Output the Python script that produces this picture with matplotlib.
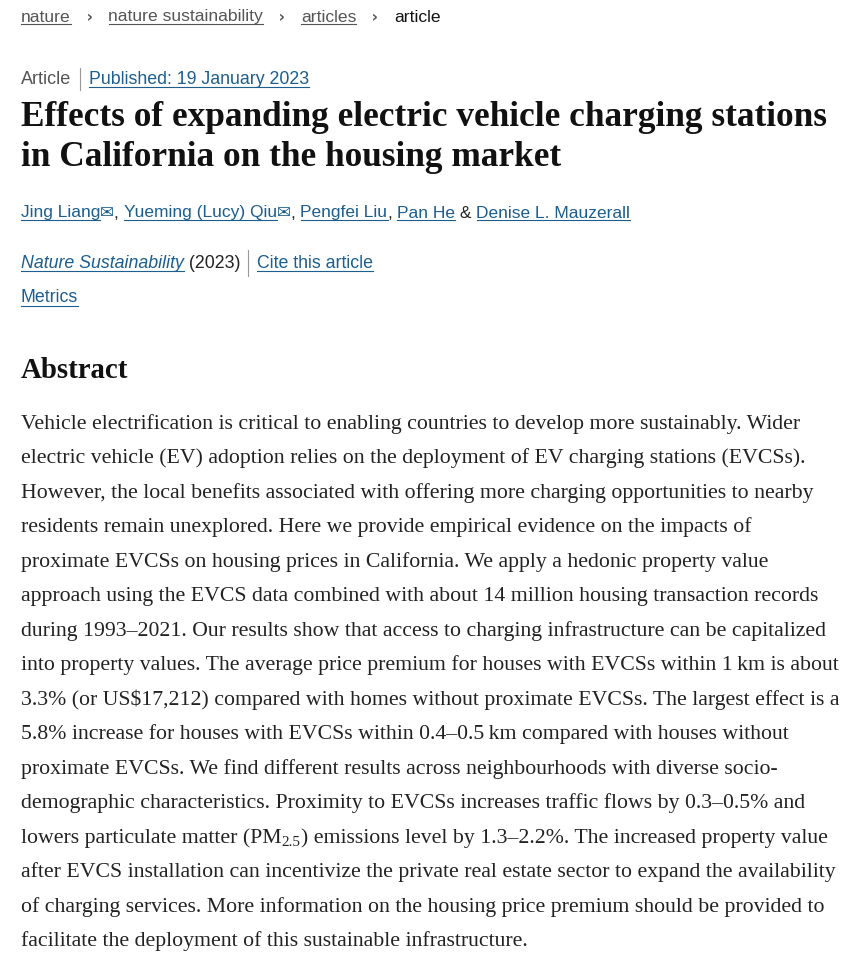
import matplotlib
matplotlib.use("Agg")
import matplotlib.pyplot as plt

W, H = 865, 971
LINK = "#1b5e8f"
GREY = "#555555"
DARK = "#222222"

crumbs = ["nature", "nature sustainability", "articles", "article"]
published = "Published: 19 January 2023"
title_lines = ["Effects of expanding electric vehicle charging stations",
               "in California on the housing market"]
authors = ["Jing Liang", "Yueming (Lucy) Qiu", "Pengfei Liu", "Pan He", "Denise L. Mauzerall"]
journal = "Nature Sustainability"
heading = "Abstract"
body_lines = [
    "Vehicle electrification is critical to enabling countries to develop more sustainably. Wider",
    "electric vehicle (EV) adoption relies on the deployment of EV charging stations (EVCSs).",
    "However, the local benefits associated with offering more charging opportunities to nearby",
    "residents remain unexplored. Here we provide empirical evidence on the impacts of",
    "proximate EVCSs on housing prices in California. We apply a hedonic property value",
    "approach using the EVCS data combined with about 14 million housing transaction records",
    "during 1993\u20132021. Our results show that access to charging infrastructure can be capitalized",
    "into property values. The average price premium for houses with EVCSs within 1\u2009km is about",
    "3.3% (or US$17,212) compared with homes without proximate EVCSs. The largest effect is a",
    "5.8% increase for houses with EVCSs within 0.4\u20130.5\u2009km compared with houses without",
    "proximate EVCSs. We find different results across neighbourhoods with diverse socio-",
    "demographic characteristics. Proximity to EVCSs increases traffic flows by 0.3\u20130.5% and",
    "lowers particulate matter (PM|2.5|) emissions level by 1.3\u20132.2%. The increased property value",
    "after EVCS installation can incentivize the private real estate sector to expand the availability",
    "of charging services. More information on the housing price premium should be provided to",
    "facilitate the deployment of this sustainable infrastructure.",
]

fig = plt.figure(figsize=(W / 100, H / 100), dpi=100)
ax = fig.add_axes([0, 0, 1, 1])
ax.set_xlim(0, W)
ax.set_ylim(H, 0)
ax.axis("off")
fig.canvas.draw()
rend = fig.canvas.get_renderer()

SANS = "Liberation Sans"
SERIF = "Liberation Serif"


def run(x, y, segs):
    # segs: (text, dict) ; draws left to right on one line
    for txt, st in segs:
        st = dict(st)
        ul = st.pop("ul", False)
        dy = st.pop("dy", 0)
        t = ax.text(x, y + dy, txt, va="center", ha="left", **st)
        bb = t.get_window_extent(rend)
        w = bb.width
        if ul:
            hh = bb.height
            ax.plot([x, x + w], [y + hh * 0.45, y + hh * 0.45], color=st.get("color", DARK), lw=0.8)
        x += w
    return x


crumb_st = dict(fontfamily=SANS, fontsize=12.6, color=GREY, ul=True)
segs = []
for i, c in enumerate(crumbs):
    if i == len(crumbs) - 1:
        segs.append((c, dict(fontfamily=SANS, fontsize=12.6, color="#111111")))
    else:
        segs.append((c, crumb_st))
        segs.append(("   \u203a   ", dict(fontfamily="DejaVu Sans", fontsize=11, color=GREY,
                                         fontweight="bold")))
run(21, 17, segs)

x = run(21, 79, [("Article", dict(fontfamily=SANS, fontsize=13, color=GREY))])
ax.plot([x + 9, x + 9], [68, 90], color="#999999", lw=0.8)
run(x + 18, 79, [(published, dict(fontfamily=SANS, fontsize=12.8, color=LINK, ul=True))])

for i, ln in enumerate(title_lines):
    ax.text(21, 118 + 40 * i, ln, va="center", ha="left", fontfamily=SERIF,
            fontsize=25.4, fontweight="bold", color="#111111")

a_st = dict(fontfamily=SANS, fontsize=12.5, color=LINK, ul=True)
p_st = dict(fontfamily=SANS, fontsize=12.5, color=DARK)
env = dict(fontfamily="DejaVu Sans", fontsize=12, color=LINK)
segs = [(authors[0], a_st), ("\u2709", env), (", ", p_st),
        (authors[1], a_st), ("\u2709", env), (", ", p_st),
        (authors[2], a_st), (", ", p_st), (authors[3], a_st), (" & ", p_st),
        (authors[4], a_st)]
run(21, 213, segs)

x = run(21, 263, [(journal, dict(fontfamily=SANS, fontsize=12.8, color=LINK, ul=True, style="italic")),
                  (" (2023)", dict(p_st, fontsize=12.8))])
ax.plot([x + 8, x + 8], [250, 276], color="#999999", lw=0.8)
run(x + 17, 263, [("Cite this article", dict(a_st, fontsize=12.8))])
run(21, 298, [("Metrics", dict(a_st, fontsize=12.8))])

ax.text(21, 370, heading, va="center", ha="left", fontfamily=SERIF, fontsize=20.8,
        fontweight="bold", color="#111111")

b_st = dict(fontfamily=SERIF, fontsize=15.7, color=DARK)
for i, ln in enumerate(body_lines):
    y = 424 + 34.5 * i
    parts = ln.split("|")
    segs = []
    for j, p in enumerate(parts):
        if j % 2:
            segs.append((p, dict(fontfamily=SERIF, fontsize=11, color=DARK, dy=4)))
        else:
            segs.append((p, b_st))
    run(21, y, segs)

fig.savefig("out.png", dpi=100)
